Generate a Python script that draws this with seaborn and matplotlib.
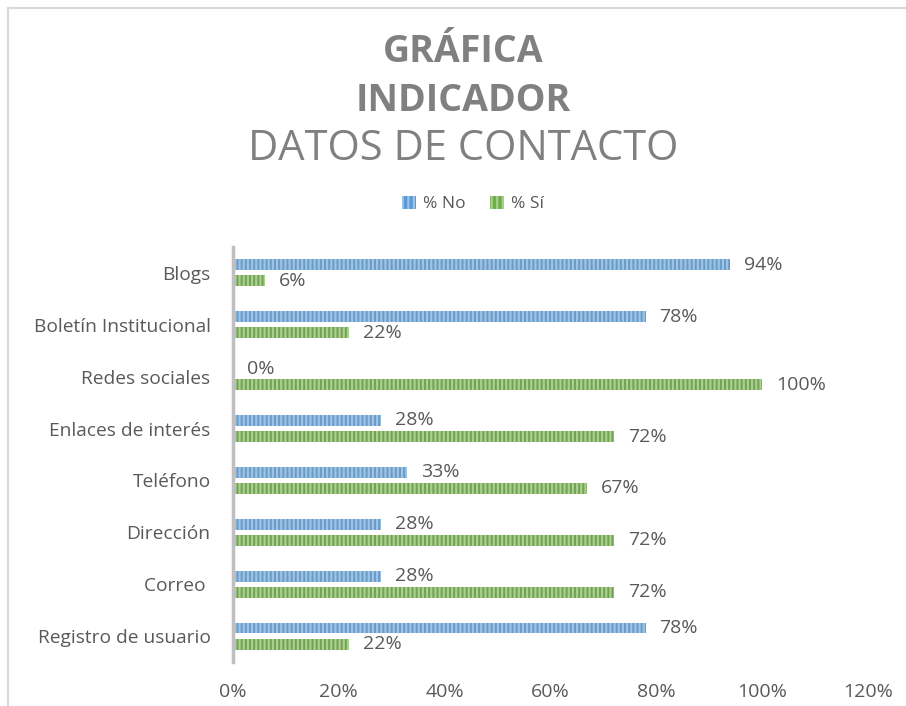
import matplotlib
import matplotlib.pyplot as plt
import pandas as pd
import seaborn as sns
from matplotlib.lines import Line2D

matplotlib.use("Agg")

categories = [
    "Blogs",
    "Boletín Institucional",
    "Redes sociales",
    "Enlaces de interés",
    "Teléfono",
    "Dirección",
    "Correo ",
    "Registro de usuario",
]
pct_no = [0.94, 0.78, 0.00, 0.28, 0.33, 0.28, 0.28, 0.78]
pct_si = [0.06, 0.22, 1.00, 0.72, 0.67, 0.72, 0.72, 0.22]
series_names = ["% No", "% Sí"]
x_ticks = [0, 0.2, 0.4, 0.6, 0.8, 1.0, 1.2]

df = pd.DataFrame({
    "categoria": categories * 2,
    "serie": [series_names[0]] * len(categories) + [series_names[1]] * len(categories),
    "valor": pct_no + pct_si,
})

sns.set_theme(style="white")
plt.rcParams["font.family"] = ["Open Sans", "DejaVu Sans"]
plt.rcParams["hatch.linewidth"] = 1.6

text_color = "#595959"
palette = {"% No": "#5B9BD5", "% Sí": "#70AD47"}
stripe = {"% No": "#9DC3E6", "% Sí": "#A9D18E"}

fig = plt.figure(figsize=(9.06, 7.06), dpi=100)
ax = fig.add_axes([0.257, 0.0623, 0.701, 0.588])

sns.barplot(
    data=df, y="categoria", x="valor", hue="serie", order=categories,
    hue_order=series_names, palette=palette, orient="h",
    width=0.62, gap=0.32, ax=ax, legend=False,
)

for container, name in zip(ax.containers, series_names):
    for bar in container:
        bar.set_hatch("||||")
        bar.set_edgecolor(stripe[name])
        bar.set_linewidth(0)
    ax.bar_label(container, labels=[f"{v:.0%}" for v in container.datavalues],
                 padding=10, fontsize=14, color=text_color)

ax.set_xlim(0, 1.2)
ax.set_ylim(len(categories) - 0.5, -0.5)
ax.set_xticks(x_ticks)
ax.set_xticklabels([f"{t:.0%}" for t in x_ticks])
ax.set_xlabel("")
ax.set_ylabel("")
ax.tick_params(axis="x", labelsize=14, colors=text_color, pad=15, length=0)
ax.tick_params(axis="y", labelsize=13.8, colors=text_color, pad=16, length=0)
for side in ["top", "right", "bottom"]:
    ax.spines[side].set_visible(False)
ax.spines["left"].set_color("#BFBFBF")
ax.spines["left"].set_linewidth(2.5)

# legend above the plot area
handles = [
    plt.Rectangle((0, 0), 1, 1, facecolor=palette[n], edgecolor=stripe[n],
                  hatch="|||", linewidth=0)
    for n in series_names
]
fig.legend(handles, series_names, loc="center", bbox_to_anchor=(0.522, 0.711),
           ncol=2, frameon=False, fontsize=12.5, labelcolor=text_color,
           handlelength=0.8, handleheight=0.8, handletextpad=0.4, columnspacing=1.4)

# title
title_color = "#808080"
fig.text(0.511, 0.926, "GRÁFICA", ha="center", va="center", fontsize=27,
         fontweight="bold", color=title_color)
fig.text(0.511, 0.857, "INDICADOR", ha="center", va="center", fontsize=27,
         fontweight="bold", color=title_color)
fig.text(0.511, 0.789, "DATOS DE CONTACTO", ha="center", va="center", fontsize=30,
         fontweight="normal", color=title_color)

# chart frame (top and left edges)
fig.add_artist(Line2D([0.009, 1.0], [0.989, 0.989], color="#D9D9D9", linewidth=1.5))
fig.add_artist(Line2D([0.009, 0.009], [0.0, 0.989], color="#D9D9D9", linewidth=1.5))

fig.savefig("out.png", dpi=100)
plt.close(fig)
